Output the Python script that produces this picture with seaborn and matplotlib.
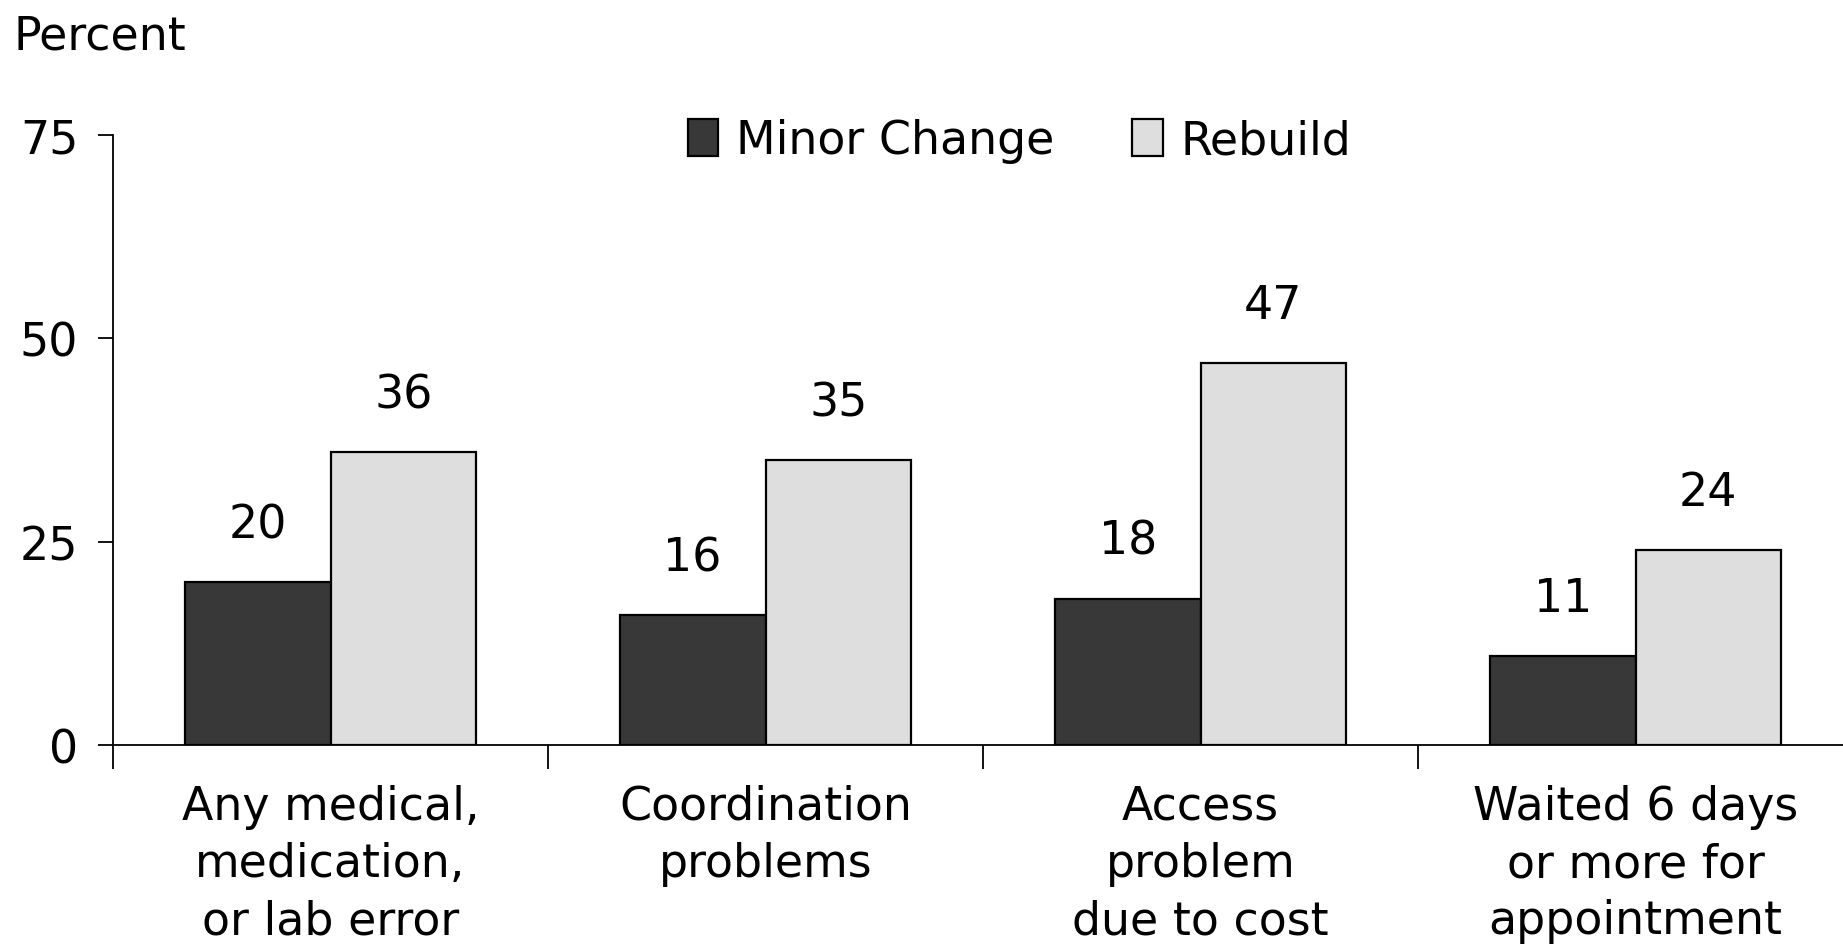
import matplotlib
matplotlib.use("Agg")
import matplotlib.pyplot as plt
import seaborn as sns
import pandas as pd

# Share of respondents reporting each problem, by view of the health system
categories = [
    "Any medical,\nmedication,\nor lab error",
    "Coordination\nproblems",
    "Access\nproblem\ndue to cost",
    "Waited 6 days\nor more for\nappointment",
]
minor_change = [20, 16, 18, 11]
rebuild = [36, 35, 47, 24]
series_names = ["Minor Change", "Rebuild"]
series_colors = ["#383838", "#dedede"]
y_ticks = [0, 25, 50, 75]

df = pd.DataFrame({
    "category": categories * 2,
    "group": [series_names[0]] * len(categories) + [series_names[1]] * len(categories),
    "value": minor_change + rebuild,
})

sns.set_theme(style="white")
plt.rcParams["font.family"] = ["DejaVu Sans"]
plt.rcParams["text.color"] = "black"
plt.rcParams["xtick.color"] = "black"
plt.rcParams["ytick.color"] = "black"
plt.rcParams["axes.labelcolor"] = "black"

W, H = 1843, 945
fig = plt.figure(figsize=(W / 100, H / 100), dpi=100)
left_px, right_px, y0_px, y75_px = 113, 1843, 746, 136
cat_px = 435
ax = fig.add_axes([left_px / W, (H - y0_px) / H, (right_px - left_px) / W, (y0_px - y75_px) / H])

sns.barplot(data=df, x="category", y="value", hue="group", order=categories,
            hue_order=series_names, palette=series_colors, width=0.67,
            edgecolor="black", linewidth=1.6, saturation=1, ax=ax, legend=False)

fs = 33
ax.set_yticks(y_ticks)
ax.set_yticklabels([str(t) for t in y_ticks], fontsize=fs)
ax.set_xlabel("")
ax.set_ylabel("")

# category labels on major ticks, boundary marks as minor ticks
ax.set_xticks(range(len(categories)))
ax.set_xticklabels(categories, fontsize=fs, linespacing=1.35)
ax.set_xticks([-0.5, 0.5, 1.5, 2.5, 3.5], minor=True)
ax.tick_params(axis="x", which="major", length=0, pad=28)
ax.tick_params(axis="x", which="minor", length=17, width=1.3, color="black",
               direction="out", bottom=True)
ax.tick_params(axis="y", which="major", length=11, width=1.3, color="black", direction="out",
               pad=14, left=True)

# limits set after the ticks so tick placement cannot widen the view
ax.set_xlim(-0.5, -0.5 + (right_px - left_px) / cat_px)
ax.set_ylim(0, 75)

for side in ["top", "right"]:
    ax.spines[side].set_visible(False)
for side in ["left", "bottom"]:
    ax.spines[side].set_color("black")
    ax.spines[side].set_linewidth(1.3)

# value labels above each bar
for cont in ax.containers:
    ax.bar_label(cont, labels=[f"{v:.0f}" for v in cont.datavalues], padding=25, fontsize=fs)

# legend
handles = [plt.Rectangle((0, 0), 1, 1, facecolor=c, edgecolor="black", linewidth=1.6)
           for c in series_colors]
fig.legend(handles, series_names, loc="center", bbox_to_anchor=(0.553, 0.85), ncol=2,
           frameon=False, fontsize=fs, handlelength=0.67, handleheight=0.85,
           handletextpad=0.38, columnspacing=1.7)

fig.text(14 / W, 1 - 37 / H, "Percent", fontsize=fs, va="center", ha="left")

fig.savefig("out.png", dpi=100, facecolor="white")
